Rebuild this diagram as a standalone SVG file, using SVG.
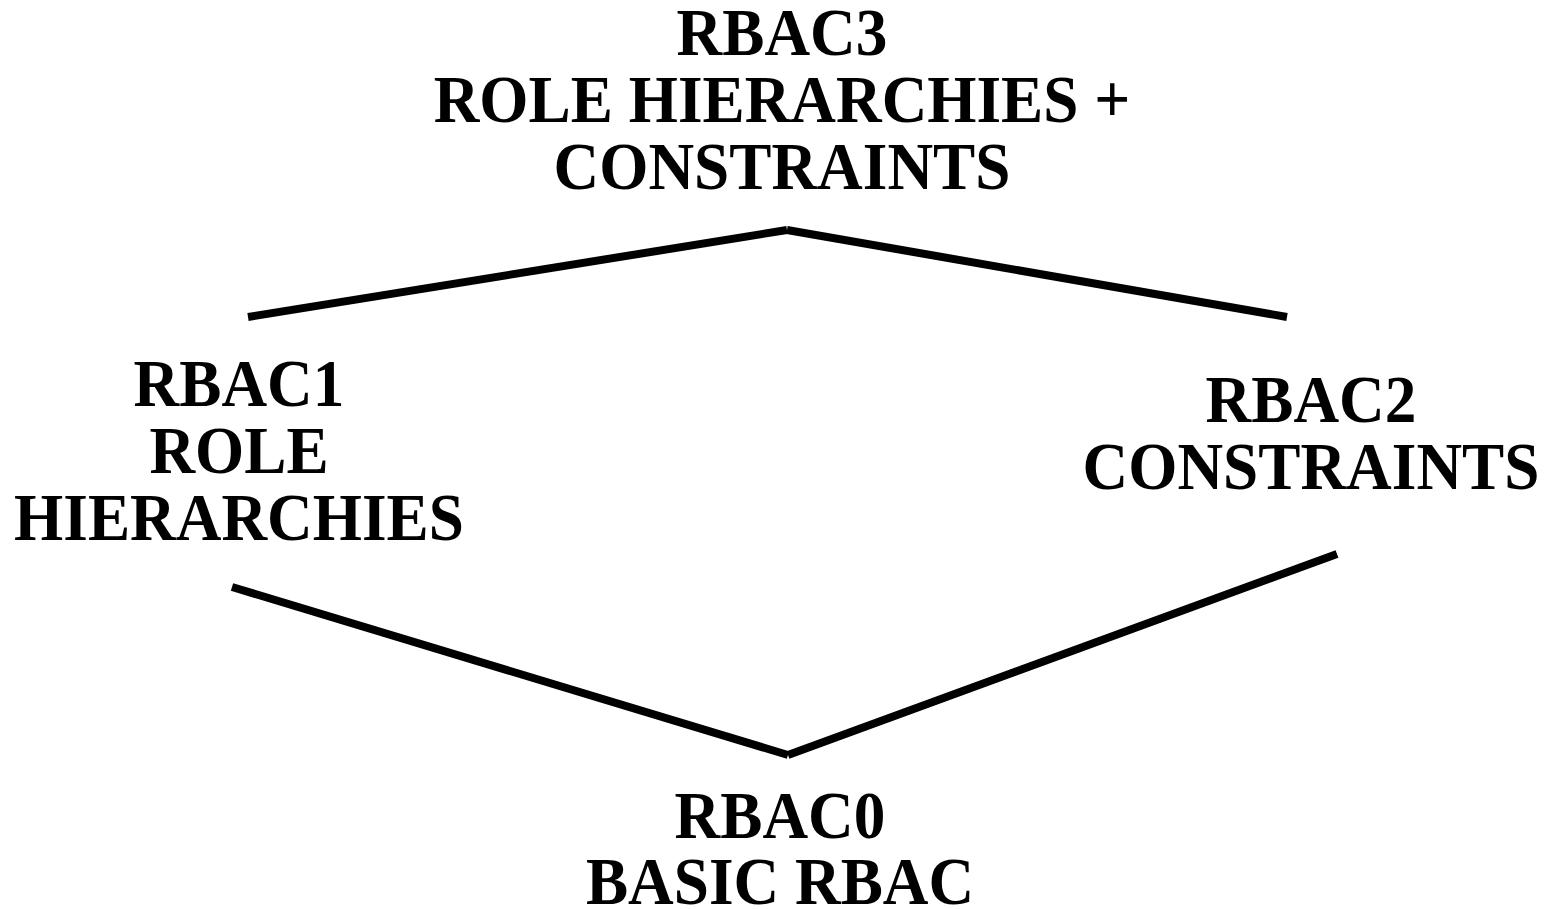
<svg xmlns="http://www.w3.org/2000/svg" width="1553" height="909" viewBox="0 0 1553 909">
<style>
text{font-family:"Liberation Serif","Times New Roman",serif;font-weight:bold;font-size:68px;fill:#000;text-anchor:middle}
.c{stroke:#000;stroke-width:8;fill:none;stroke-linecap:butt}
</style>
<rect width="1553" height="909" fill="#fff"/>
<g id="connectors">
<line class="c" x1="248" y1="317" x2="787" y2="230"/>
<line class="c" x1="787" y1="230" x2="1287" y2="317"/>
<line class="c" x1="232" y1="587" x2="788" y2="755"/>
<line class="c" x1="788" y1="755" x2="1337" y2="554"/>
</g>
<g id="rbac3" transform="translate(782 0) scale(0.93 1)">
<text x="0" y="55">RBAC3</text>
<text x="0" y="122">ROLE HIERARCHIES +</text>
<text x="0" y="189">CONSTRAINTS</text>
</g>
<g id="rbac1" transform="translate(239 0) scale(0.93 1)">
<text x="0" y="406">RBAC1</text>
<text x="0" y="473">ROLE</text>
<text x="0" y="540">HIERARCHIES</text>
</g>
<g id="rbac2" transform="translate(1311 0) scale(0.93 1)">
<text x="0" y="422">RBAC2</text>
<text x="0" y="489">CONSTRAINTS</text>
</g>
<g id="rbac0" transform="translate(780 0) scale(0.93 1)">
<text x="0" y="838">RBAC0</text>
<text x="0" y="904">BASIC RBAC</text>
</g>
</svg>
